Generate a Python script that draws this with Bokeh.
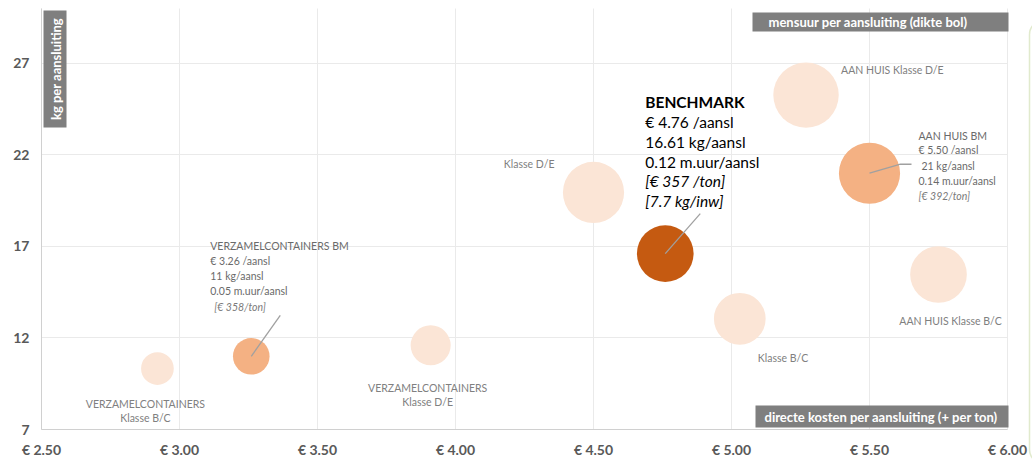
import math
from bokeh.plotting import figure
from bokeh.models import ColumnDataSource, Label, BoxAnnotation, FixedTicker, Range1d
from bokeh.embed import file_html
from bokeh.resources import INLINE

# ---------------- data ----------------
names = ["VERZAMELCONTAINERS Klasse B/C", "VERZAMELCONTAINERS BM", "VERZAMELCONTAINERS Klasse D/E",
         "Klasse D/E", "BENCHMARK", "Klasse B/C",
         "AAN HUIS Klasse D/E", "AAN HUIS BM", "AAN HUIS Klasse B/C"]
cost = [2.92, 3.26, 3.91, 4.50, 4.76, 5.03, 5.27, 5.50, 5.75]          # € per aansluiting
kg = [10.33, 11.0, 11.6, 19.95, 16.61, 13.05, 25.27, 21.0, 15.47]      # kg per aansluiting
muur = [0.04, 0.05, 0.06, 0.14, 0.12, 0.10, 0.16, 0.14, 0.12]          # m.uur per aansluiting
kind = ["klasse", "bm", "klasse", "klasse", "benchmark", "klasse", "klasse", "bm", "klasse"]

x_ticks = [2.5, 3.0, 3.5, 4.0, 4.5, 5.0, 5.5, 6.0]
x_tick_labels = ["€ 2.50", "€ 3.00", "€ 3.50", "€ 4.00", "€ 4.50", "€ 5.00", "€ 5.50", "€ 6.00"]
y_ticks = [7, 12, 17, 22, 27]

# ---------------- geometry / style ----------------
X0, X1, Y0, Y1 = 2.5, 6.0, 7, 30          # axis extents
W, H = 1032, 459
AX_LEFT, AX_TOP = 41, 8                    # page px of the (2.5, 30) corner
PPX = 966 / (X1 - X0)                      # px per € unit
PPY = 421 / (Y1 - Y0)                      # px per kg unit
XR = (X0 - AX_LEFT / PPX, X0 + (W - AX_LEFT) / PPX)
YR = (Y1 - (H - AX_TOP) / PPY, Y1 + AX_TOP / PPY)
BUBBLE_SCALE = 81.8  # px radius for sqrt(1 m.uur)

def px2x(px):
    return X0 + (px - AX_LEFT) / PPX

def px2y(py):
    return Y1 - (py - AX_TOP) / PPY

colors = {"klasse": "#FBE5D6", "bm": "#F4B183", "benchmark": "#C55A11"}
FONT = "Lato"

src = ColumnDataSource(dict(
    name=names, cost=cost, kg=kg,
    size=[2 * BUBBLE_SCALE * math.sqrt(m) for m in muur],
    color=[colors[k] for k in kind],
))

p = figure(frame_width=W, frame_height=H,
           x_range=Range1d(*XR), y_range=Range1d(*YR),
           output_backend="svg", toolbar_location=None,
           min_border_left=0, min_border_right=0,
           min_border_top=0, min_border_bottom=0)
p.outline_line_color = None
p.background_fill_color = "white"
p.border_fill_color = "white"

p.xaxis.ticker = FixedTicker(ticks=x_ticks)
p.xaxis.major_label_overrides = {t: l for t, l in zip(x_ticks, x_tick_labels)}
p.xaxis.fixed_location = Y0
p.xaxis.bounds = (X0, X1)
p.yaxis.ticker = FixedTicker(ticks=y_ticks)
p.yaxis.fixed_location = X0
p.yaxis.bounds = (Y0, Y1)
for ax in (p.xaxis, p.yaxis):
    ax.axis_line_color = "#D0D0D0"
    ax.major_tick_line_color = None
    ax.minor_tick_line_color = None
    ax.major_label_text_font = FONT
    ax.major_label_text_font_style = "bold"
    ax.major_label_text_font_size = "14px"
    ax.major_label_text_color = "#595959"
p.xaxis.major_label_standoff = 5
p.yaxis.major_label_standoff = 6
p.xgrid.grid_line_color = "#EAEAEA"
p.ygrid.grid_line_color = "#EAEAEA"
p.xgrid.cross_bounds = (Y0, Y1)
p.ygrid.cross_bounds = (X0, X1)

# bubbles
p.scatter(x="cost", y="kg", size="size", fill_color="color", line_color=None, source=src)

# leader lines (pixel offsets from bubble centre, down = positive)
leaders = [(1, [(0, 0), (29, -41)]),
           (4, [(0, 0), (35, -40)]),
           (7, [(0, 0), (31, -9), (42, -9)])]
for i, pts in leaders:
    p.line([cost[i] + dx / PPX for dx, dy in pts], [kg[i] - dy / PPY for dx, dy in pts],
           line_color="#A0A0A0", line_width=1.3)

# annotation labels: (point, dx px, dy px (down +), text, style, align)
anno = [
    (0, -12, 35, "VERZAMELCONTAINERS", "cat", "center"),
    (0, -12, 49, "Klasse B/C", "cat", "center"),
    (1, -41, -110, "VERZAMELCONTAINERS BM", "bm", "left"),
    (1, -41, -95, "€ 3.26 /aansl", "bm", "left"),
    (1, -41, -80, "11 kg/aansl", "bm", "left"),
    (1, -41, -65, "0.05 m.uur/aansl", "bm", "left"),
    (1, -37, -49, "[€ 358/ton]", "bmi", "left"),
    (2, -3, 43, "VERZAMELCONTAINERS", "cat", "center"),
    (2, -3, 57, "Klasse D/E", "cat", "center"),
    (3, -39, -28, "Klasse D/E", "cat", "right"),
    (4, -20, -152, "BENCHMARK", "benchb", "left"),
    (4, -20, -132, "€ 4.76 /aansl", "bench", "left"),
    (4, -20, -112, "16.61 kg/aansl", "bench", "left"),
    (4, -20, -92, "0.12 m.uur/aansl", "bench", "left"),
    (4, -20, -73, "[€ 357 /ton]", "benchi", "left"),
    (4, -20, -53, "[7.7 kg/inw]", "benchi", "left"),
    (5, 18, 39, "Klasse B/C", "cat", "left"),
    (6, 35, -25, "AAN HUIS Klasse D/E", "cat", "left"),
    (7, 49, -37, "AAN HUIS BM", "bm", "left"),
    (7, 49, -23, "€ 5.50 /aansl", "bm", "left"),
    (7, 52, -7, "21 kg/aansl", "bm", "left"),
    (7, 49, 8, "0.14 m.uur/aansl", "bm", "left"),
    (7, 49, 23, "[€ 392/ton]", "bmi", "left"),
    (8, 12, 47, "AAN HUIS Klasse B/C", "cat", "center"),
]
styles = {
    "cat": dict(text_font_size="10.5px", text_color="#808080", text_font_style="normal"),
    "bm": dict(text_font_size="10.5px", text_color="#6A6A6A", text_font_style="normal"),
    "bmi": dict(text_font_size="10.5px", text_color="#7A7A7A", text_font_style="italic"),
    "bench": dict(text_font_size="15.5px", text_color="#000000", text_font_style="normal"),
    "benchb": dict(text_font_size="15.5px", text_color="#000000", text_font_style="bold"),
    "benchi": dict(text_font_size="15.5px", text_color="#000000", text_font_style="italic"),
}
for i, dx, dy, txt, st, al in anno:
    p.add_layout(Label(x=cost[i], y=kg[i], x_offset=dx, y_offset=-dy, text=txt,
                       text_font=FONT, text_align=al, text_baseline="middle", **styles[st]))

# grey title boxes
GREY = "#7F7F7F"
boxes = [(43, 66, 10, 127), (752, 1008, 12, 31), (755, 1008, 405, 427)]
for l, r, t, b in boxes:
    p.add_layout(BoxAnnotation(left=px2x(l), right=px2x(r), top=px2y(t), bottom=px2y(b),
                               fill_color=GREY, fill_alpha=1, line_color=None))
box_texts = [
    (55, 68.5, "kg per aansluiting", "center", math.pi / 2),
    (768, 21.5, "mensuur per aansluiting  (dikte bol)", "left", 0),
    (764, 416, "directe kosten per aansluiting  (+ per ton)", "left", 0),
]
for px, py, txt, al, ang in box_texts:
    p.add_layout(Label(x=px2x(px), y=px2y(py), text=txt, angle=ang, text_font=FONT,
                       text_font_size="13px", text_font_style="bold", text_color="white",
                       text_align=al, text_baseline="middle"))

# green panel border on the right
p.add_layout(BoxAnnotation(left=px2x(1029), right=px2x(1090), top=px2y(20), bottom=px2y(463),
                           fill_alpha=0, line_color="#9BBB59", line_width=1.5, border_radius=14))

open("out.html", "w").write(file_html(p, INLINE))
